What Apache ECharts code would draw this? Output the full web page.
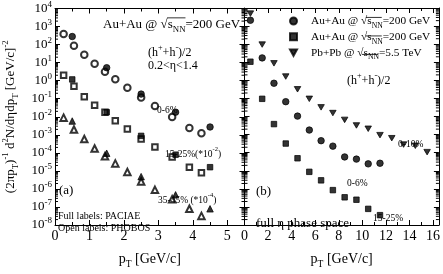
<!DOCTYPE html>
<html><head><meta charset="utf-8">
<script src="https://cdn.jsdelivr.net/npm/echarts@6/dist/echarts.min.js"></script>
<style>html,body{margin:0;padding:0;background:#fff}#c{width:443px;height:274px}</style>
</head><body><div id="c"></div>
<script>
const FONT = '"Liberation Serif","Times New Roman",serif';
// ---------- Panel (a) ----------
const phobosPt = [0.25, 0.55, 0.85, 1.15, 1.45, 1.75, 2.1, 2.5, 2.9, 3.4, 3.9, 4.25];
const phobos0_6 = [390, 85, 27, 8.7, 3.1, 1.2, 0.40, 0.115, 0.039, 0.0096, 0.0024, 0.0012];
const phobos15_25 = [2.0, 0.49, 0.129, 0.044, 0.0178, 0.006, 0.0021, 5.8e-4, 2.1e-4, 5.8e-5, 1.6e-5, 7.8e-6];
const phobos35_45 = [8.9e-3, 1.95e-3, 5.8e-4, 1.74e-4, 6.5e-5, 2.6e-5, 8.7e-6, 2.6e-6, 8.9e-7, 2.7e-7, 7.9e-8, 3.2e-8];
const paciaePtA = [0.5, 1.5, 2.5, 3.5, 4.5];
const paciae0_6 = [280, 5.2, 0.18, 0.018, 0.0027];
const paciae15_25 = [1.17, 0.0178, 8.7e-4, 7.9e-5, 1.6e-5];
const paciae35_45 = [5.8e-3, 9.5e-5, 4.8e-6, 4.7e-7, 7.9e-8];
// ---------- Panel (b) ----------
const ptB = [0.5, 1.5, 2.5, 3.5, 4.5, 5.5, 6.5, 7.5, 8.5, 9.5, 10.5, 11.5, 12.5, 13.5, 14.5, 15.5];
const pbpb0_10 = [4900, 95, 8.7, 1.62, 0.32, 0.095, 0.032, 0.0155, 0.0065, 0.0032, 0.0021, 9.3e-4, 6.3e-4, 2.8e-4, 2.4e-4, 1.07e-4];
const auau0_6B = [2100, 17.4, 0.69, 0.066, 0.0105, 1.78e-3, 4.6e-4, 2.3e-4, 5.8e-5, 4.4e-5, 2.4e-5, 2.6e-5];
const auau15_25B = [10.7, 0.095, 3.8e-3, 3.2e-4, 4.9e-5, 8.7e-6, 2.95e-6, 8.5e-7, 3.4e-7, 2.5e-7, 7.8e-8, 3.5e-8];
// ---------- axes ----------
const yMin = 1e-8, yMax = 1e4;
const xMaxA = 5.5, xMaxB = 16.5;

const zip = (xs, ys) => ys.map((y, i) => [xs[i], y]);
const minorVals = [];
for (let e = -8; e < 4; e++) for (let k = 2; k <= 9; k++) minorVals.push(k * Math.pow(10, e));

const mctx = document.createElement('canvas').getContext('2d');
function tw(t, S) { mctx.font = S + 'px ' + FONT; return mctx.measureText(t).width; }

function rich(S) {
  const s = Math.round(S * 0.68 * 10) / 10;
  return {
    b: {fontFamily: FONT, fontSize: S, lineHeight: S + 6, color: '#000', fill: '#000'},
    sup: {fontFamily: FONT, fontSize: s, lineHeight: s, verticalAlign: 'top', color: '#000', fill: '#000'},
    sub: {fontFamily: FONT, fontSize: s, lineHeight: s, verticalAlign: 'bottom', color: '#000', fill: '#000'},
    sp: {width: 9}
  };
}
const black = {color: '#000', width: 1};

function xAx(grid, pos, max, interval, labels) {
  return {
    type: 'value', gridIndex: grid, position: pos, min: 0, max: max, interval: interval,
    axisLine: {show: true, onZero: false, lineStyle: black},
    axisTick: {show: true, inside: true, length: 5, lineStyle: black},
    minorTick: {show: true, splitNumber: 2, length: 3, lineStyle: black},
    splitLine: {show: false},
    axisLabel: labels ? {
      show: true, margin: 4, color: '#000', fontFamily: FONT, fontSize: 14,
      formatter: v => (Math.abs(v / interval - Math.round(v / interval)) < 1e-9 ? String(v) : '')
    } : {show: false},
    name: labels ? '{b|p}{sub|T}{b| [GeV/c]}' : '',
    nameLocation: 'middle', nameGap: 24,
    nameTextStyle: {rich: rich(14)}
  };
}
function yAx(grid, pos, labels) {
  return {
    type: 'log', logBase: 10, gridIndex: grid, position: pos, min: yMin, max: yMax,
    interval: 1, splitNumber: 12,
    axisLine: {show: true, onZero: false, lineStyle: black},
    axisTick: {show: true, inside: true, length: 5, lineStyle: black},
    splitLine: {show: false},
    axisLabel: labels ? {
      show: true, margin: 3, color: '#000',
      formatter: v => '{b|10}{sup|' + Math.round(Math.log10(v)) + '}',
      rich: {
        b: {fontFamily: FONT, fontSize: 13, lineHeight: 17, color: '#000'},
        sup: {fontFamily: FONT, fontSize: 9, lineHeight: 9, verticalAlign: 'top', color: '#000'}
      }
    } : {show: false},
    name: labels ? '{b|(2πp}{sub|T}{b|)}{sup|-1}{b| d}{sup|2}{b|N/dηdp}{sub|T}{b| [GeV/c]}{sup|-2}' : '',
    nameLocation: 'middle', nameGap: 35, nameRotate: 90,
    nameTextStyle: {rich: rich(13)}
  };
}
function minorTicks(xi, yi, xMin, xMax) {
  return {
    type: 'custom', xAxisIndex: xi, yAxisIndex: yi, silent: true, clip: false, z: 5,
    data: minorVals.map(v => [xMin, v]),
    renderItem: (params, api) => {
      const v = api.value(1);
      const p1 = api.coord([xMin, v]), p2 = api.coord([xMax, v]);
      return {type: 'group', children: [
        {type: 'line', shape: {x1: p1[0], y1: p1[1], x2: p1[0] + 3, y2: p1[1]}, style: {stroke: '#000', lineWidth: 1}},
        {type: 'line', shape: {x1: p2[0], y1: p2[1], x2: p2[0] - 3, y2: p2[1]}, style: {stroke: '#000', lineWidth: 1}}
      ]};
    }
  };
}
function sc(name, xi, yi, data, symbol, size) {
  return {
    type: 'scatter', name: name, xAxisIndex: xi, yAxisIndex: yi, data: data,
    symbol: symbol, symbolSize: size,
    itemStyle: {color: '#000', borderColor: '#000', borderWidth: 0.9}, z: 3
  };
}
const invTri = 'path://M0,0L10,0L5,9Z';

const chart = echarts.init(document.getElementById('c'), null, {renderer: 'canvas'});
const R12 = rich(12), R13 = rich(13), R10 = rich(10), R9 = rich(9.5);
const LS = 11.3;
const sqrtS = '{b|√}{b|s}{sub|NN}';
function gtext(x, y, text, r) {
  return {type: 'text', x: x, y: y, z: 10, style: {text: text, rich: r, verticalAlign: 'middle', align: 'left', fill: '#000'}};
}
function oline(x1, x2, y) {
  return {type: 'line', z: 10, shape: {x1: x1, y1: y, x2: x2, y2: y}, style: {stroke: '#000', lineWidth: 0.8}};
}
// overline over s_NN after the radical
function overFor(x, yc, prefix, S) {
  const x1 = x + tw(prefix, S) + tw('√', S) - 0.5;
  const x2 = x1 + tw('s', S) + tw('NN', Math.round(S * 0.68 * 10) / 10) + 0.5;
  return oline(x1, x2, yc - S * 0.55);
}
const titleA = {x: 103, y: 25};
const legX = 289, legTop = 15, legRow = 18.5, legTextX = legX + 7 + 5 + 9;
chart.setOption({
  animation: false,
  backgroundColor: '#fff',
  grid: [
    {left: 50, top: 8, width: 194.5, height: 230},
    {left: 244.5, top: 8, width: 196, height: 230}
  ],
  xAxis: [xAx(0, 'bottom', xMaxA, 1, true), xAx(0, 'top', xMaxA, 1, false),
          xAx(1, 'bottom', xMaxB, 2, true), xAx(1, 'top', xMaxB, 2, false)],
  yAxis: [yAx(0, 'left', true), yAx(0, 'right', false), yAx(1, 'left', false), yAx(1, 'right', false)],
  legend: {
    data: ['auau06', 'auau1525', 'pbpb'], orient: 'vertical', left: legX, top: legTop, padding: 0,
    itemWidth: 7, itemHeight: 7, itemGap: legRow - (LS + 6), selectedMode: false,
    formatter: n => '{sp|}' + (n === 'pbpb' ? '{b|Pb+Pb @ }' + sqrtS + '{b|=5.5 TeV}' : '{b|Au+Au @ }' + sqrtS + '{b|=200 GeV}'),
    textStyle: {rich: rich(LS)}
  },
  series: [
    sc('phobos06', 0, 0, zip(phobosPt, phobos0_6), 'emptyCircle', 6.5),
    sc('phobos1525', 0, 0, zip(phobosPt, phobos15_25), 'emptyRect', 5.5),
    sc('phobos3545', 0, 0, zip(phobosPt, phobos35_45), 'emptyTriangle', 6.5),
    sc('paciae06', 0, 0, zip(paciaePtA, paciae0_6), 'circle', 6.5),
    sc('paciae1525', 0, 0, zip(paciaePtA, paciae15_25), 'rect', 5.5),
    sc('paciae3545', 0, 0, zip(paciaePtA, paciae35_45), 'triangle', 6.5),
    sc('auau06', 2, 2, zip(ptB, auau0_6B), 'circle', 6.5),
    sc('auau1525', 2, 2, zip(ptB, auau15_25B), 'rect', 5.5),
    sc('pbpb', 2, 2, zip(ptB, pbpb0_10), invTri, [6.5, 5.5]),
    minorTicks(0, 0, 0, xMaxA),
    minorTicks(2, 2, 0, xMaxB)
  ],
  graphic: [
    gtext(titleA.x, titleA.y, '{b|Au+Au @ }' + sqrtS + '{b|=200 GeV}', R13),
    overFor(titleA.x, titleA.y, 'Au+Au @ ', 13),
    overFor(legTextX, legTop + legRow * 0 + (LS + 6) / 2, 'Au+Au @ ', LS),
    overFor(legTextX, legTop + legRow * 1 + (LS + 6) / 2, 'Au+Au @ ', LS),
    overFor(legTextX, legTop + legRow * 2 + (LS + 6) / 2, 'Pb+Pb @ ', LS),
    gtext(148, 53, '{b|(h}{sup|+}{b|+h}{sup|-}{b|)/2}', R12),
    gtext(148, 66, '{b|0.2<η<1.4}', R12),
    gtext(157, 110, '{b|0-6%}', R9),
    gtext(165, 154, '{b|15-25%(*10}{sup|-2}{b|)}', R9),
    gtext(158, 200, '{b|35-45% (*10}{sup|-4}{b|)}', R9),
    gtext(59, 191, '{b|(a)}', R13),
    gtext(58, 216, '{b|Full labels: PACIAE}', R10),
    gtext(58, 228, '{b|Open labels: PHOBOS}', R10),
    gtext(347, 81, '{b|(h}{sup|+}{b|+h}{sup|-}{b|)/2}', R12),
    gtext(398, 144, '{b|0-10%}', R9),
    gtext(347, 183, '{b|0-6%}', R9),
    gtext(373, 218, '{b|15-25%}', R9),
    gtext(256, 192, '{b|(b)}', R13),
    gtext(256, 224, '{b|full η phase space}', R13)
  ]
});
</script></body></html>
